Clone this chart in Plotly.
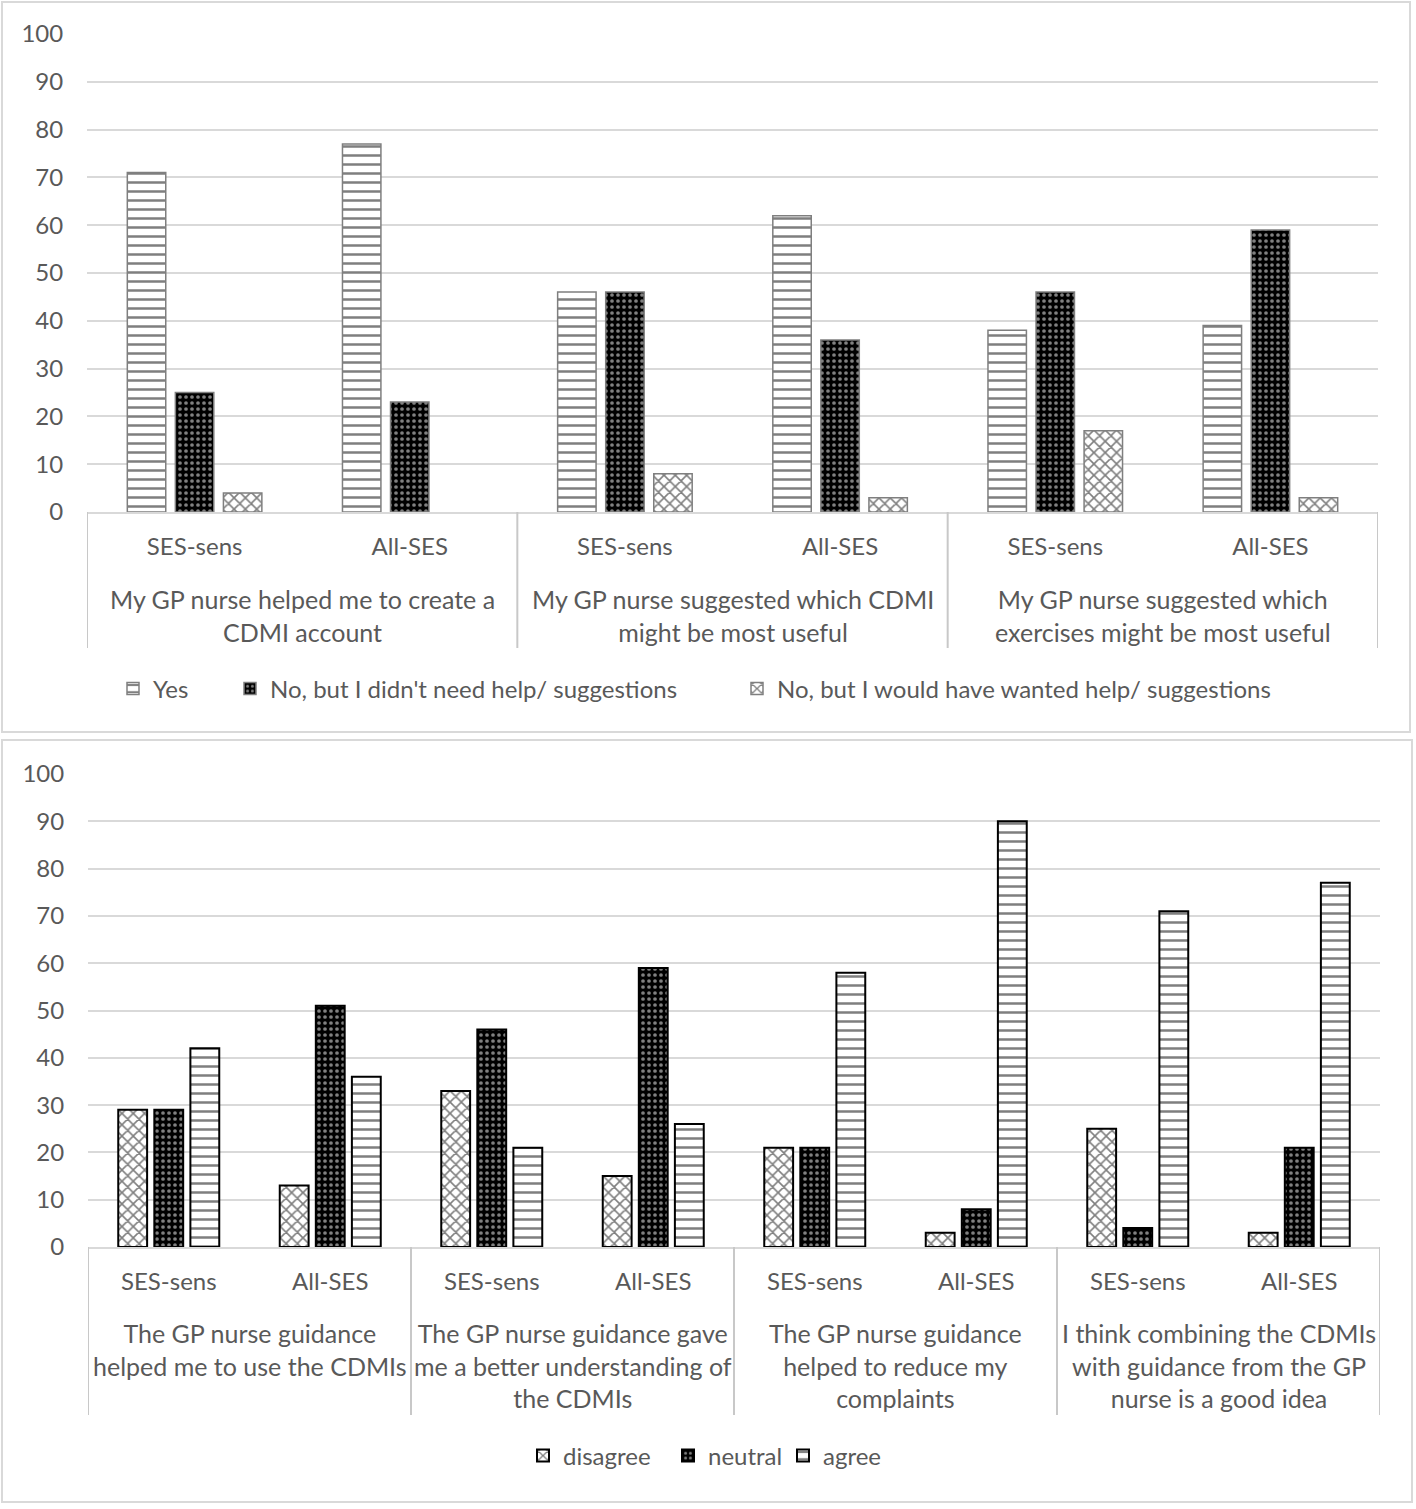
import plotly.graph_objects as go

W, H = 1416, 1509

# ---------------- data ----------------
top_sub = ["SES-sens", "All-SES", "SES-sens", "All-SES", "SES-sens", "All-SES"]
top_groups = ["My GP nurse helped me to create a<br>CDMI account",
              "My GP nurse suggested which CDMI<br>might be most useful",
              "My GP nurse suggested which<br>exercises might be most useful"]
top_yes = [71, 77, 46, 62, 38, 39]
top_no_didnt_need = [25, 23, 46, 36, 46, 59]
top_no_wanted = [4, 0, 8, 3, 17, 3]
top_names = ["Yes", "No, but I didn't need help/ suggestions",
             "No, but I would have wanted help/ suggestions"]

bot_sub = ["SES-sens", "All-SES"] * 4
bot_groups = ["The GP nurse guidance<br>helped me to use the CDMIs",
              "The GP nurse guidance gave<br>me a better understanding of<br>the CDMIs",
              "The GP nurse guidance<br>helped to reduce my<br>complaints",
              "I think combining the CDMIs<br>with guidance from the GP<br>nurse is a good idea"]
bot_disagree = [29, 13, 33, 15, 21, 3, 25, 3]
bot_neutral = [29, 51, 46, 59, 21, 8, 4, 21]
bot_agree = [42, 36, 21, 26, 58, 90, 71, 77]
bot_names = ["disagree", "neutral", "agree"]

y_ticks = list(range(0, 101, 10))

# ---------------- styles ----------------
FONT = "Lato"
TXT = "#595959"
GRID = "#d9d9d9"
FS = 24

pat_lines = dict(shape="-", fgcolor="black", bgcolor="white", size=9, solidity=0.28)
pat_dots = dict(shape=".", fgcolor="white", bgcolor="black", size=6, solidity=0.3)
pat_zig = dict(shape="x", fgcolor="black", bgcolor="white", size=8, solidity=0.36)


def px_x(p):
    return p / W


def px_y(p):
    return 1 - p / H


def outline(vals, color, width):
    # no outline for empty (zero) bars, as in the original
    return dict(color=color, width=[width if v > 0 else 0 for v in vals])


fig = go.Figure()

xt = list(range(len(top_sub)))
xb = list(range(len(bot_sub)))

TOPC, BOTC = "#7f7f7f", "black"

fig.add_trace(go.Bar(x=xt, y=top_yes, name=top_names[0],
                     marker=dict(color="white", pattern=pat_lines, line=outline(top_yes, TOPC, 1.5)),
                     xaxis="x", yaxis="y", legend="legend", showlegend=True))
fig.add_trace(go.Bar(x=xt, y=top_no_didnt_need, name=top_names[1],
                     marker=dict(color="black", pattern=pat_dots, line=outline(top_no_didnt_need, TOPC, 1.5)),
                     xaxis="x", yaxis="y", legend="legend2", showlegend=True))
fig.add_trace(go.Bar(x=xt, y=top_no_wanted, name=top_names[2],
                     marker=dict(color="white", pattern=pat_zig, line=outline(top_no_wanted, TOPC, 1.5)),
                     xaxis="x", yaxis="y", legend="legend3", showlegend=True))

fig.add_trace(go.Bar(x=xb, y=bot_disagree, name=bot_names[0],
                     marker=dict(color="white", pattern=pat_zig, line=outline(bot_disagree, BOTC, 2)),
                     xaxis="x2", yaxis="y2", legend="legend4", showlegend=True))
fig.add_trace(go.Bar(x=xb, y=bot_neutral, name=bot_names[1],
                     marker=dict(color="black", pattern=pat_dots, line=outline(bot_neutral, BOTC, 2)),
                     xaxis="x2", yaxis="y2", legend="legend5", showlegend=True))
fig.add_trace(go.Bar(x=xb, y=bot_agree, name=bot_names[2],
                     marker=dict(color="white", pattern=pat_lines, line=outline(bot_agree, BOTC, 2)),
                     xaxis="x2", yaxis="y2", legend="legend6", showlegend=True))

axfont = dict(family=FONT, size=FS, color=TXT)
lblfont = dict(family=FONT, size=25, color=TXT)

xcommon = dict(showgrid=False, zeroline=False, showline=True, linecolor=GRID, linewidth=2,
               ticks="outside", ticklen=12, tickcolor="rgba(0,0,0,0)", tickfont=axfont,
               automargin=False)
ycommon = dict(range=[0, 100], tickvals=y_ticks, showgrid=True, gridcolor=GRID, gridwidth=2,
               zeroline=False, showline=False, ticks="outside", ticklen=18,
               tickcolor="rgba(0,0,0,0)", tickfont=axfont, automargin=False)


def leg(text_x, text_y):
    return dict(orientation="h", x=px_x(text_x - 40), xanchor="left", y=px_y(text_y), yanchor="middle",
                font=dict(family=FONT, size=FS, color=TXT), bgcolor="rgba(0,0,0,0)", borderwidth=0)


fig.update_layout(
    width=W, height=H,
    margin=dict(l=0, r=0, t=0, b=0, pad=0, autoexpand=False),
    paper_bgcolor="white", plot_bgcolor="white",
    showlegend=True,
    barmode="group", bargap=0.33, bargroupgap=0.2,
    font=dict(family=FONT, size=FS, color=TXT),
    xaxis=dict(domain=[px_x(87), px_x(1378)], range=[-0.5, len(top_sub) - 0.5],
               tickvals=xt, ticktext=top_sub, anchor="y", **xcommon),
    yaxis=dict(domain=[px_y(512), px_y(34)], anchor="x", **ycommon),
    xaxis2=dict(domain=[px_x(88), px_x(1380)], range=[-0.5, len(bot_sub) - 0.5],
                tickvals=xb, ticktext=bot_sub, anchor="y2", **xcommon),
    yaxis2=dict(domain=[px_y(1247), px_y(774)], anchor="x2", **ycommon),
    legend=leg(153, 689),
    legend2=leg(270, 689),
    legend3=leg(777, 689),
    legend4=leg(563, 1456),
    legend5=leg(708, 1456),
    legend6=leg(823, 1456),
)

shapes = []
# panel borders
shapes.append(dict(type="rect", xref="paper", yref="paper", x0=px_x(2), x1=px_x(1410),
                   y0=px_y(732), y1=px_y(2), line=dict(color=GRID, width=2)))
shapes.append(dict(type="rect", xref="paper", yref="paper", x0=px_x(2), x1=px_x(1412),
                   y0=px_y(1502), y1=px_y(740), line=dict(color=GRID, width=2)))
# group dividers
for k in range(len(top_groups) + 1):
    xv = -0.5 + 2 * k
    shapes.append(dict(type="line", xref="x", yref="paper", x0=xv, x1=xv,
                       y0=px_y(648), y1=px_y(512), line=dict(color="#c8c8c8", width=2)))
for k in range(len(bot_groups) + 1):
    xv = -0.5 + 2 * k
    shapes.append(dict(type="line", xref="x2", yref="paper", x0=xv, x1=xv,
                       y0=px_y(1415), y1=px_y(1247), line=dict(color="#c8c8c8", width=2)))

annotations = []
for k, g in enumerate(top_groups):
    annotations.append(dict(xref="x", yref="paper", x=0.5 + 2 * k, y=px_y(582), yanchor="top",
                            text=g, showarrow=False, align="center", font=lblfont))
for k, g in enumerate(bot_groups):
    annotations.append(dict(xref="x2", yref="paper", x=0.5 + 2 * k, y=px_y(1316), yanchor="top",
                            text=g, showarrow=False, align="center", font=lblfont))

fig.update_layout(shapes=shapes, annotations=annotations)

fig.write_html("out.html", config={"displayModeBar": False},
               post_script="document.body.style.margin='0';")
